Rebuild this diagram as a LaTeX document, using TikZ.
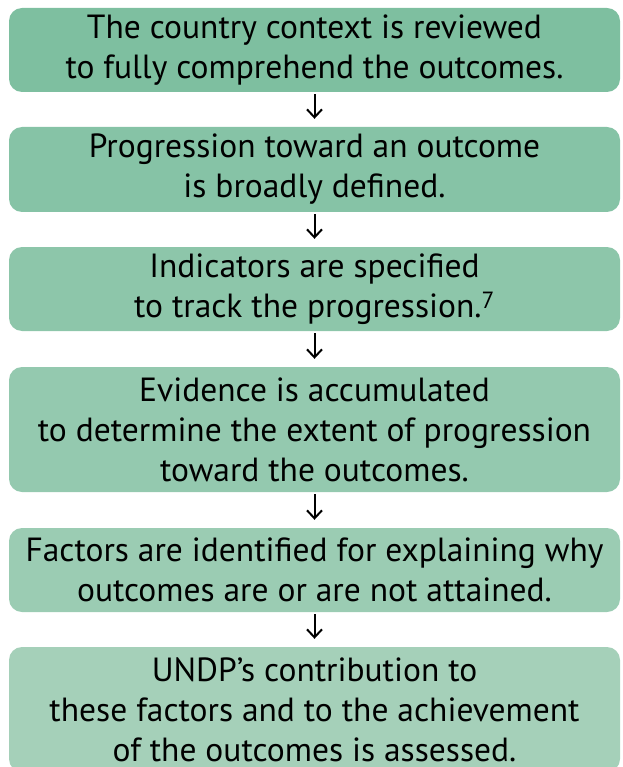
\documentclass[tikz,border=0pt]{standalone}
\usepackage{fontspec}
\setmainfont{PT Sans}
\usetikzlibrary{arrows.meta}

\definecolor{stepA}{RGB}{126,191,160}
\definecolor{stepB}{RGB}{134,195,166}
\definecolor{stepC}{RGB}{141,198,170}
\definecolor{stepD}{RGB}{148,201,175}
\definecolor{stepE}{RGB}{155,204,179}
\definecolor{stepF}{RGB}{165,208,185}

\begin{document}
\begin{tikzpicture}[x=1pt, y=-1pt,
    stepbox/.style={rounded corners=13pt, minimum width=611pt, inner sep=0pt,
        align=center, font=\fontsize{33.5}{40}\selectfont},
    >={Straight Barb[length=8pt, width=15pt]}]
    \useasboundingbox (0,0) rectangle (622,767);
    \node[stepbox, fill=stepA, minimum height=84pt] at (314.5, 50) (s_1)
        {The country context is reviewed\\to fully comprehend the outcomes.};
    \node[stepbox, fill=stepB, minimum height=85pt] at (314.5, 169.5) (s_2)
        {Progression toward an outcome\\is broadly defined.};
    \node[stepbox, fill=stepC, minimum height=84pt] at (314.5, 289) (s_3)
        {Indicators are specified\\to track the progression.\textsuperscript{7}};
    \node[stepbox, fill=stepD, minimum height=125pt] at (314.5, 429.5) (s_4)
        {Evidence is accumulated\\to determine the extent of progression\\toward the outcomes.};
    \node[stepbox, fill=stepE, minimum height=84pt] at (314.5, 570) (s_5)
        {Factors are identified for explaining why\\outcomes are or are not attained.};
    \node[stepbox, fill=stepF, minimum height=125pt] at (314.5, 709.5) (s_6)
        {UNDP’s contribution to\\these factors and to the achievement\\of the outcomes is assessed.};

    \foreach \a/\b in {s_1/s_2, s_2/s_3, s_3/s_4, s_4/s_5, s_5/s_6}
        \draw[->, line width=2pt, shorten <=2pt, shorten >=8pt] (\a.south) -- (\b.north);
\end{tikzpicture}
\end{document}
